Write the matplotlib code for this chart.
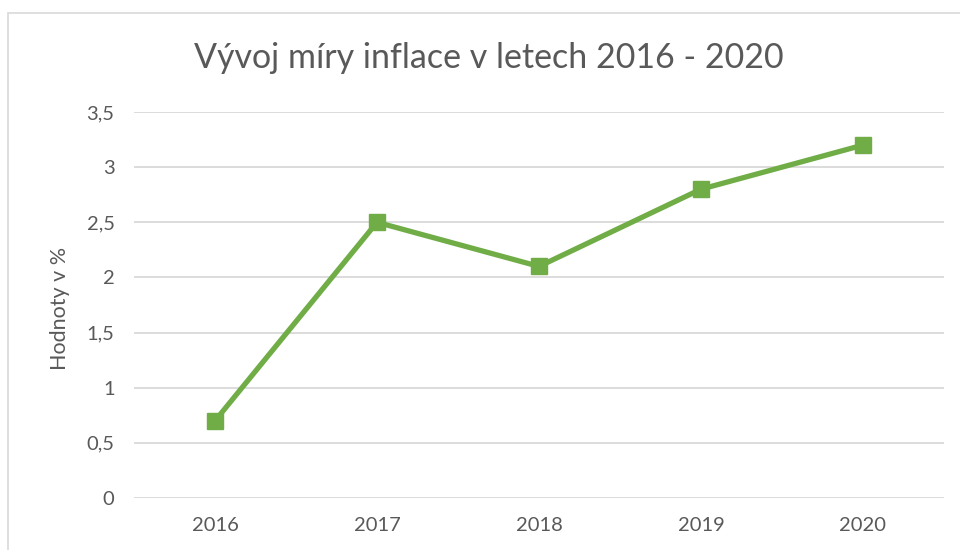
import matplotlib
matplotlib.use("Agg")
import matplotlib.pyplot as plt
from matplotlib.patches import Rectangle

years = ["2016", "2017", "2018", "2019", "2020"]
inflation = [0.7, 2.5, 2.1, 2.8, 3.2]
yticks = [0, 0.5, 1, 1.5, 2, 2.5, 3, 3.5]
ytick_labels = ["0", "0,5", "1", "1,5", "2", "2,5", "3", "3,5"]

plt.rcParams['font.family'] = ['Lato', 'DejaVu Sans']
text_color = "#595959"
green = "#70AD47"

fig = plt.figure(figsize=(9.6, 5.5), dpi=100)
ax = fig.add_axes([134/960, 1 - 498/550, 810/960, 386/550])

# outer chart border (top and left visible)
fig.patches.append(Rectangle((8/960, -0.1), 1.2, 0.1 + (1 - 13/550), transform=fig.transFigure,
                             fill=False, edgecolor="#D9D9D9", linewidth=1.2))

x = range(len(years))
ax.plot(x, inflation, color=green, linewidth=3.8, marker="s", markersize=12,
        solid_capstyle="round", zorder=3)

ax.set_xlim(-0.5, len(years) - 0.5)
ax.set_ylim(0, 3.5)
ax.set_xticks(list(x))
ax.set_xticklabels(years)
ax.set_yticks(yticks)
ax.set_yticklabels(ytick_labels)
ax.tick_params(length=0, labelsize=14.5, colors=text_color, pad=14)
ax.tick_params(axis="x", pad=14)
ax.yaxis.grid(True, color="#D9D9D9", linewidth=1.3)
ax.set_axisbelow(True)
for s in ax.spines.values():
    s.set_visible(False)

fig.text(60/960, 1 - 308/550, "Hodnoty v %", rotation=90, ha="center", va="center",
         fontsize=15.5, color=text_color)
fig.text(489/960, 1 - 58/550, "Vývoj míry inflace v letech 2016 - 2020", ha="center",
         va="center", fontsize=24.5, color=text_color)

fig.savefig("out.png", dpi=100)
